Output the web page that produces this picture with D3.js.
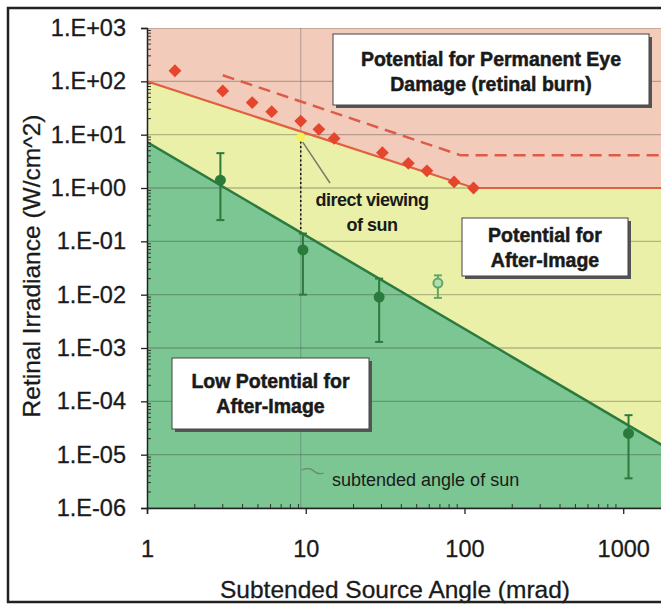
<!DOCTYPE html>
<html>
<head>
<meta charset="utf-8">
<script src="https://cdn.jsdelivr.net/npm/d3@7"></script>
<style>
  body { margin: 0; background: #fff; }
  text { font-family: "Liberation Sans", Arial, sans-serif; fill: #1a1a1a; }
</style>
</head>
<body>
<script>
// axis ticks
const yTicks = [1e3, 1e2, 1e1, 1e0, 1e-1, 1e-2, 1e-3, 1e-4, 1e-5, 1e-6];
const yTickLabels = ["1.E+03", "1.E+02", "1.E+01", "1.E+00", "1.E-01", "1.E-02", "1.E-03", "1.E-04", "1.E-05", "1.E-06"];
const xTicks = [1, 10, 100, 1000];
const xTickLabels = ["1", "10", "100", "1000"];

// region boundaries (mrad, W/cm^2)
const burnLimitAngle = [1, 115, 2000];
const burnLimitValue = [100, 1, 1];
const burnUpperAngle = [3, 95, 2000];
const burnUpperValue = [130, 4.1, 4.1];
const afterLimitAngle = [1, 2000];
const afterLimitValue = [7.3, 1.2e-5];

// retinal burn points
const burnAngle = [1.5, 3.0, 4.6, 6.1, 9.3, 12.1, 15.1, 30.4, 44.3, 58, 86, 114];
const burnValue = [158, 66, 40, 27, 18, 12.6, 8.5, 4.6, 2.9, 2.1, 1.3, 1.0];

// after-image observations with error bars
const obsAngle = [2.9, 9.6, 29, 1080];
const obsValue = [1.4, 0.069, 0.009, 2.5e-5];
const obsLow = [0.25, 0.01, 0.0013, 3.6e-6];
const obsHigh = [4.5, 0.14, 0.02, 5.5e-5];

const otherAngle = [68];
const otherValue = [0.0165];
const otherLow = [0.0087];
const otherHigh = [0.023];

const sunAngle = 9.3;
const sunValue = 9;

const pts = (xs, ys) => xs.map((a, i) => [a, ys[i]]);

const W = 661, H = 604;
const pLeft = 147, pTop = 28, pBottom = 508, pRight = 671;

const x = d3.scaleLog().domain([1, 2000]).range([pLeft, pRight]);
const y = d3.scaleLog().domain([1e-6, 1e3]).range([pBottom, pTop]);

const svg = d3.select("body").append("svg")
    .attr("width", W)
    .attr("height", H);

svg.append("defs").append("clipPath").attr("id", "plot")
  .append("rect").attr("x", pLeft).attr("y", pTop)
    .attr("width", pRight - pLeft).attr("height", pBottom - pTop);

const plot = svg.append("g").attr("clip-path", "url(#plot)");

// background regions
plot.append("rect")
    .attr("x", pLeft).attr("y", pTop)
    .attr("width", pRight - pLeft).attr("height", pBottom - pTop)
    .attr("fill", "#f2cbbb");

const area = d3.area()
    .x(d => x(d[0]))
    .y0(pBottom)
    .y1(d => y(d[1]));

plot.append("path")
    .attr("d", area(pts(burnLimitAngle, burnLimitValue)))
    .attr("fill", "#ebf0a8");

plot.append("path")
    .attr("d", area(pts(afterLimitAngle, afterLimitValue)))
    .attr("fill", "#7bc692");

// gridlines
plot.selectAll(".grid")
    .data(yTicks)
  .enter().append("line")
    .attr("class", "grid")
    .attr("x1", pLeft).attr("x2", pRight)
    .attr("y1", d => y(d)).attr("y2", d => y(d))
    .attr("stroke", "#3a3a2a")
    .attr("stroke-opacity", 0.32)
    .attr("stroke-width", 1.4);

// sun angle line
plot.append("line")
    .attr("x1", x(sunAngle)).attr("x2", x(sunAngle))
    .attr("y1", pTop).attr("y2", pBottom)
    .attr("stroke", "#555")
    .attr("stroke-opacity", 0.35)
    .attr("stroke-width", 1.2);
plot.append("line")
    .attr("x1", x(sunAngle)).attr("x2", x(sunAngle))
    .attr("y1", y(sunValue)).attr("y2", y(0.14))
    .attr("stroke", "#111")
    .attr("stroke-width", 1.5)
    .attr("stroke-dasharray", "2,2.5");

const line = d3.line()
    .x(d => x(d[0]))
    .y(d => y(d[1]));

// limits
plot.append("path")
    .attr("d", line(pts(afterLimitAngle, afterLimitValue)))
    .attr("fill", "none")
    .attr("stroke", "#2b7a3f")
    .attr("stroke-width", 2.5);

plot.append("path")
    .attr("d", line(pts(burnUpperAngle, burnUpperValue)))
    .attr("fill", "none")
    .attr("stroke", "#de5b4a")
    .attr("stroke-width", 2.5)
    .attr("stroke-dasharray", "12,7");

plot.append("path")
    .attr("d", line(pts(burnLimitAngle, burnLimitValue)))
    .attr("fill", "none")
    .attr("stroke", "#e0603f")
    .attr("stroke-width", 2.2);

// burn diamonds
plot.selectAll(".burn")
    .data(pts(burnAngle, burnValue))
  .enter().append("path")
    .attr("class", "burn")
    .attr("d", d3.symbol(d3.symbolSquare, 82)())
    .attr("transform", d => "translate(" + x(d[0]) + "," + y(d[1]) + ") rotate(45)")
    .attr("fill", "#e4452c");

// sun point
plot.append("circle")
    .attr("cx", x(sunAngle)).attr("cy", y(sunValue))
    .attr("r", 4.5)
    .attr("fill", "#f4f25a");

// error bars
function errorBars(cls, xs, vs, lo, hi, color, fill) {
  const g = plot.selectAll("." + cls)
      .data(xs.map((a, i) => ({a: a, v: vs[i], lo: lo[i], hi: hi[i]})))
    .enter().append("g")
      .attr("class", cls)
      .attr("stroke", color)
      .attr("stroke-width", 2);
  g.append("line")
      .attr("x1", d => x(d.a)).attr("x2", d => x(d.a))
      .attr("y1", d => y(d.hi)).attr("y2", d => y(d.lo));
  g.append("line")
      .attr("x1", d => x(d.a) - 4).attr("x2", d => x(d.a) + 4)
      .attr("y1", d => y(d.hi)).attr("y2", d => y(d.hi));
  g.append("line")
      .attr("x1", d => x(d.a) - 4).attr("x2", d => x(d.a) + 4)
      .attr("y1", d => y(d.lo)).attr("y2", d => y(d.lo));
  g.append("circle")
      .attr("cx", d => x(d.a)).attr("cy", d => y(d.v))
      .attr("r", 4.5)
      .attr("fill", fill);
}
errorBars("obs", obsAngle, obsValue, obsLow, obsHigh, "#2a7a3c", "#2a7a3c");
errorBars("other", otherAngle, otherValue, otherLow, otherHigh, "#5da867", "#b5dcae");

// annotation leaders
svg.append("line")
    .attr("x1", 330).attr("y1", 183)
    .attr("x2", x(sunAngle) + 2).attr("y2", y(sunValue) + 5)
    .attr("stroke", "#7a7a6a")
    .attr("stroke-width", 1.5);
svg.append("path")
    .attr("d", "M" + (x(sunAngle) + 1) + ",470 q8,-3 12,1 t10,2")
    .attr("fill", "none")
    .attr("stroke", "#6a8a6a")
    .attr("stroke-width", 1.3);

svg.append("text")
    .attr("x", 372).attr("y", 206)
    .attr("text-anchor", "middle")
    .style("font-size", "18px").style("font-weight", "bold")
    .style("letter-spacing", "-0.5px")
    .text("direct viewing");
svg.append("text")
    .attr("x", 372).attr("y", 231)
    .attr("text-anchor", "middle")
    .style("font-size", "18px").style("font-weight", "bold")
    .style("letter-spacing", "-0.5px")
    .text("of sun");
svg.append("text")
    .attr("x", 332).attr("y", 486)
    .style("font-size", "18px")
    .text("subtended angle of sun");

// label boxes
function labelBox(x0, y0, w, h, lines, ys) {
  const g = svg.append("g");
  g.append("rect")
      .attr("x", x0 + 3).attr("y", y0 + 3)
      .attr("width", w).attr("height", h)
      .attr("fill", "#555");
  g.append("rect")
      .attr("x", x0).attr("y", y0)
      .attr("width", w).attr("height", h)
      .attr("fill", "#fff")
      .attr("stroke", "#444")
      .attr("stroke-width", 1);
  lines.forEach((t, i) => {
    g.append("text")
        .attr("x", x0 + w / 2).attr("y", ys[i])
        .attr("text-anchor", "middle")
        .style("font-size", "19.5px").style("font-weight", "bold")
        .attr("stroke", "#1a1a1a")
        .attr("stroke-width", 0.5)
        .text(t);
  });
}
labelBox(333, 34, 316, 71, ["Potential for Permanent Eye", "Damage (retinal burn)"], [66, 91]);
labelBox(462, 218, 166, 58, ["Potential for", "After-Image"], [242, 267]);
labelBox(172, 358, 197, 71, ["Low Potential for", "After-Image"], [388, 413]);

// minor ticks
const minorX = [];
[1, 10, 100, 1000].forEach(d => { for (let k = 2; k <= 9; k++) if (d * k < 2000) minorX.push(d * k); });
svg.selectAll(".mx")
    .data(minorX)
  .enter().append("line")
    .attr("x1", d => x(d)).attr("x2", d => x(d))
    .attr("y1", pBottom).attr("y2", pBottom - 4)
    .attr("stroke", "#333");
const minorY = [];
yTicks.slice(1).forEach(d => { for (let k = 2; k <= 9; k++) minorY.push(d * k); });
svg.selectAll(".my")
    .data(minorY)
  .enter().append("line")
    .attr("x1", pLeft).attr("x2", pLeft + 4)
    .attr("y1", d => y(d)).attr("y2", d => y(d))
    .attr("stroke", "#333");

// axes
const yAxis = svg.append("g")
    .attr("transform", "translate(" + pLeft + ",0)")
    .call(d3.axisLeft(y)
      .tickValues(yTicks)
      .tickFormat((d, i) => yTickLabels[i])
      .tickSize(6)
      .tickPadding(15));
const xAxis = svg.append("g")
    .attr("transform", "translate(0," + pBottom + ")")
    .call(d3.axisBottom(x)
      .tickValues(xTicks)
      .tickFormat((d, i) => xTickLabels[i])
      .tickSize(6)
      .tickPadding(26));
[yAxis, xAxis].forEach(a => {
  a.selectAll("text")
      .style("font-family", "'Liberation Sans', Arial, sans-serif")
      .style("font-size", "23.5px")
      .attr("fill", "#1a1a1a")
      .attr("stroke", "#1a1a1a")
      .attr("stroke-width", 0.3);
  a.select(".domain").attr("stroke", "#222").attr("stroke-width", 1.5);
  a.selectAll(".tick line").attr("stroke", "#222").attr("stroke-width", 1.3);
});

// axis titles
svg.append("text")
    .attr("transform", "translate(40,266) rotate(-90)")
    .attr("text-anchor", "middle")
    .style("font-size", "24.5px")
    .attr("stroke", "#1a1a1a")
    .attr("stroke-width", 0.3)
    .text("Retinal Irradiance (W/cm^2)");
svg.append("text")
    .attr("x", 395).attr("y", 598)
    .attr("text-anchor", "middle")
    .style("font-size", "24.5px")
    .attr("stroke", "#1a1a1a")
    .attr("stroke-width", 0.3)
    .text("Subtended Source Angle (mrad)");

// outer frame
svg.append("rect")
    .attr("x", 8).attr("y", 8)
    .attr("width", 700).attr("height", 594)
    .attr("fill", "none")
    .attr("stroke", "#222")
    .attr("stroke-width", 2.5);
</script>
</body>
</html>
